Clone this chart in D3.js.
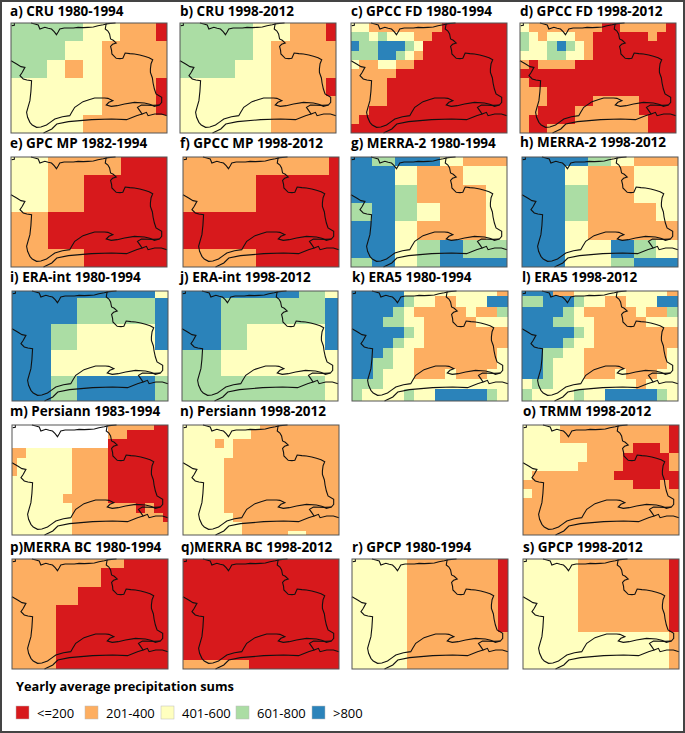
<!DOCTYPE html>
<html>
<head>
<meta charset="utf-8">
<script src="https://cdn.jsdelivr.net/npm/d3@7"></script>
<style>
  html, body { margin: 0; padding: 0; background: #fff; }
  svg { display: block; }
  text { font-family: "Open Sans", sans-serif; fill: #000; }
</style>
</head>
<body>
<section></section>
<script>
// precipitation classes
var classLabels = ["<=200", "201-400", "401-600", "601-800", ">800"];
var classColors = ["#ffffff", "#d7191c", "#fdae61", "#ffffbf", "#abdda4", "#2b83ba"];

var titles = [
  "a) CRU 1980-1994", "b) CRU 1998-2012", "c) GPCC FD 1980-1994", "d) GPCC FD 1998-2012",
  "e) GPC MP 1982-1994", "f) GPCC MP 1998-2012", "g) MERRA-2 1980-1994", "h) MERRA-2 1998-2012",
  "i) ERA-int 1980-1994", "j) ERA-int 1998-2012", "k) ERA5 1980-1994", "l) ERA5 1998-2012",
  "m) Persiann 1983-1994", "n) Persiann 1998-2012", "o) TRMM 1998-2012",
  "p)MERRA BC 1980-1994", "q)MERRA BC 1998-2012", "r) GPCP 1980-1994", "s) GPCP 1998-2012"
];

// each row is one line of grid cells, digit = class (0 = no data, 1 = <=200 ... 5 = >800)
// a short row goes on with its last digit up to the map edge
var cru1 = ["444433221", "444332222", "443232222", "333332221", "333332221", "333322222"];
var cru2 = ["444433221", "444432222", "444332222", "333332221", "333332222", "333332222"];
var gpccFd1 = [
  "332222222211", "443433322111", "544555431", "444554321",
  "322332211", "222221", "22221", "22221", "22221", "221", "21", "1"
];
var gpccFd2 = [
  "32222222211222221", "43233322111111211", "433454321", "333443321",
  "2122221", "1", "21", "2221", "22211111222221", "22111122222221",
  "211111222222221", "211222222222221"
];
var gpcMp1 = ["332222111", "33221", "33221", "221", "221", "22221"];
var gpcMp2 = ["222222221", "22221", "22221", "1", "1", "22221"];
var merra1 = ["5455322", "5532233", "5542223", "4543223", "5532223", "5534544", "4534555"];
var merra2 = ["5554322", "5532233", "5542233", "5542223", "5532222", "5533543", "5533455"];
var eraInt1 = ["5555553", "5554445", "5543335", "5533333", "5545554"];
var eraInt2 = ["5555543", "5544445", "5543335", "4433333", "4444443"];
var era51 = [
  "555553333333332", "555554332233355", "555543222223224", "555443322222333",
  "555554322222222", "555543322222222", "555433222222223", "554433222222223",
  "554333222322233", "444333333333333", "433334335555543", "433334335555543"
];
var era52 = [
  "555223333333332", "445554332233355", "555543222223224", "555443322222333",
  "555554322222222", "555543322222222", "554433222222223", "554333222222223",
  "554333222322233", "344333333332333", "433334335555543", "433334335555543"
];
var persiann1 = [
  "000000000002222211", "00000000000221", "000000000001", "223333322221",
  "233333322221", "233333322221", "333333322221", "333333322221",
  "333333222221", "333333322222221211", "333333322222222221", "33333332", "33333332"
];
var persiann2 = [
  "3333333332", "333333332", "333323" + "2", "3333332", "333332", "333332", "333332",
  "333332", "333332", "333332", "3333332", "33333332", "333333322222332"
];
var trmm = [
  "33332222222222221", "33332222222222221", "33333332222211121", "33333332222111112",
  "33333322222111112", "32222222221111111", "22222222222211121", "32", "2", "2", "2", "2"
];
var merraBc1 = ["222221", "22221", "2221", "221", "221", "221", "221"];
var merraBc2 = ["1", "1", "1", "1", "1", "1", "2221"];
var gpcp1 = ["321", "322"];
var gpcp2 = ["321", "332"];

var grids = [cru1, cru2, gpccFd1, gpccFd2, gpcMp1, gpcMp2, merra1, merra2, eraInt1, eraInt2,
  era51, era52, persiann1, persiann2, trmm, merraBc1, merraBc2, gpcp1, gpcp2];

// grid definition in map units (the map is 470 x 330 units, 110 units = 1 degree)
var gridCellW = [55, 55, 27.5, 27.5, 55, 55, 68.7, 68.7, 78, 78, 31.2, 31.2, 27.5, 27.5, 27.5, 68.7, 68.7, 275, 275];
var gridCellH = [55, 55, 27.5, 27.5, 55, 55, 55, 55, 78, 78, 31, 31, 27.5, 27.5, 27.5, 55, 55, 275, 275];
var gridX0 = [-2, 0, -2, 0, 0, 0, -6, -7, -38, -37, 0, 0, -12.5, -14.5, 0, -6, -6, -110, -110];
var gridY0 = [0, 0, 0, 0, 0, 0, -27.5, -27.5, -56, -56, -15, -15, -12.5, -12.5, 0, -27, -27, -57, -57];

// basin outlines in map units
var outlineCorner = [[2, 8], [10, 7], [10, 0]];
var outlineNorth = [[60, 0], [72, 3], [82, 6], [87, 18], [102, 13], [112, 16], [122, 18], [130, 26], [137, 35],
  [142, 27], [147, 18], [160, 15], [172, 15], [188, 15], [202, 13], [218, 14], [232, 13], [248, 12], [262, 8], [278, 5], [292, 2], [315, 0]];
var outlineMain = [[287, 0], [284, 18], [292, 24], [297, 33], [300, 48], [308, 52], [317, 60], [306, 64], [300, 70], [303, 82], [304, 93],
  [317, 106], [328, 107], [337, 106], [344, 90], [358, 92], [372, 93], [388, 96], [402, 100], [416, 104], [427, 110],
  [422, 122], [420, 138], [420, 148], [426, 165], [428, 180], [432, 198], [437, 213], [454, 223], [454, 238], [447, 246],
  [432, 250], [418, 244], [402, 240], [372, 238], [342, 243], [320, 248], [302, 250], [287, 246], [295, 238], [307, 233],
  [292, 226], [282, 225], [252, 225], [235, 230], [217, 236], [204, 245], [192, 253], [183, 268], [177, 278], [155, 281],
  [132, 288], [118, 298], [107, 306], [90, 312], [77, 313], [64, 306], [57, 298], [50, 283], [47, 268], [52, 250], [57, 233],
  [60, 205], [62, 173], [48, 171], [37, 168], [27, 158], [34, 148], [42, 133], [30, 131], [17, 123], [8, 118], [0, 113]];
var outlineLoop = [[447, 246], [428, 247], [393, 246], [381, 253], [388, 263], [395, 273], [408, 268], [413, 278],
  [433, 273], [453, 273], [470, 278]];
var outlineSouth = [[395, 273], [378, 278], [348, 290], [303, 288], [243, 290], [173, 296], [138, 303], [123, 318], [98, 330]];
var outlines = [outlineCorner, outlineNorth, outlineMain, outlineLoop, outlineSouth];

// page layout, one entry per panel
var panelLeft = [11, 180, 351, 520, 11, 183, 351, 522, 12, 182, 352, 522, 12, 183, 523, 12, 183, 352, 523];
var panelTop = [23, 23, 23, 23, 157, 157, 157, 157, 291, 291, 291, 291, 425, 425, 425, 559, 559, 559, 559];
var titleLeft = [10, 180, 351, 520, 10, 180, 351, 520, 10, 180, 352, 522, 10, 180, 523, 10, 181, 352, 523];
var titleBase = [15.5, 15.5, 15.5, 15.5, 148, 148, 148, 147, 282, 282, 282, 282, 416, 416, 416, 552, 552, 552, 552];
var legendSwatch = [16, 85, 161, 236, 312];

var width = 685,
  height = 733,
  panelW = 156,
  panelH = 110;

var svg = d3.select("section").append("svg")
  .attr("width", width)
  .attr("height", height);

// frame round the whole figure
svg.append("rect")
  .attr("x", 1).attr("y", 1)
  .attr("width", width - 2).attr("height", height - 2)
  .attr("fill", "none")
  .attr("stroke", "#444")
  .attr("stroke-width", 2);

var mapX = d3.scaleLinear().domain([0, 470]).range([0, panelW]);
var mapY = d3.scaleLinear().domain([0, 330]).range([0, panelH]);
var color = d3.scaleOrdinal().domain(d3.range(6)).range(classColors);

var outlinePath = d3.line()
  .x(function(d) { return mapX(d[0]); })
  .y(function(d) { return mapY(d[1]); });

// one record per grid cell, clipped to the map area
function gridCells(i) {
  var cells = [];
  var cols = Math.ceil((470 - gridX0[i]) / gridCellW[i]);
  grids[i].forEach(function(row, r) {
    var full = row.padEnd(cols, row[row.length - 1]);
    for (var c = 0; c < cols; c++) {
      cells.push({
        x0: Math.max(0, gridX0[i] + c * gridCellW[i]),
        x1: Math.min(470, gridX0[i] + (c + 1) * gridCellW[i]),
        y0: Math.max(0, gridY0[i] + r * gridCellH[i]),
        y1: Math.min(330, gridY0[i] + (r + 1) * gridCellH[i]),
        value: +full[c]
      });
    }
  });
  return cells.filter(function(d) { return d.x1 > d.x0 && d.y1 > d.y0; });
}

var panel = svg.selectAll(".panel")
  .data(titles)
  .enter().append("g")
  .attr("class", "panel")
  .attr("transform", function(d, i) {
    return "translate(" + panelLeft[i] + "," + panelTop[i] + ")"; });

panel.each(function(d, i) {
  var g = d3.select(this);

  g.selectAll("rect.cell")
    .data(gridCells(i))
    .enter().append("rect")
    .attr("class", "cell")
    .attr("x", function(c) { return mapX(c.x0); })
    .attr("y", function(c) { return mapY(c.y0); })
    .attr("width", function(c) { return mapX(c.x1) - mapX(c.x0); })
    .attr("height", function(c) { return mapY(c.y1) - mapY(c.y0); })
    .attr("fill", function(c) { return color(c.value); })
    .attr("shape-rendering", "crispEdges");

  g.selectAll("path.outline")
    .data(outlines)
    .enter().append("path")
    .attr("class", "outline")
    .attr("d", outlinePath)
    .attr("fill", "none")
    .attr("stroke", "#111")
    .attr("stroke-width", 1.1);

  g.append("rect")
    .attr("width", panelW)
    .attr("height", panelH)
    .attr("fill", "none")
    .attr("stroke", "#555")
    .attr("stroke-width", 1);
});

svg.selectAll(".title")
  .data(titles)
  .enter().append("text")
  .attr("class", "title")
  .attr("x", function(d, i) { return titleLeft[i]; })
  .attr("y", function(d, i) { return titleBase[i]; })
  .style("font-size", "13.5px")
  .style("font-weight", "700")
  .text(function(d) { return d; });

// legend
svg.append("text")
  .attr("x", 16)
  .attr("y", 691)
  .style("font-size", "12.8px")
  .style("font-weight", "700")
  .text("Yearly average precipitation sums");

var legend = svg.selectAll(".legend")
  .data(classLabels)
  .enter().append("g")
  .attr("class", "legend")
  .attr("transform", function(d, i) { return "translate(" + legendSwatch[i] + ",706)"; });

legend.append("rect")
  .attr("width", 13)
  .attr("height", 13)
  .attr("fill", function(d, i) { return color(i + 1); })
  .attr("stroke", "#bbb")
  .attr("stroke-width", 0.5);

legend.append("text")
  .attr("x", 21)
  .attr("y", 12)
  .style("font-size", "13px")
  .text(function(d) { return d; });
</script>
</body>
</html>
